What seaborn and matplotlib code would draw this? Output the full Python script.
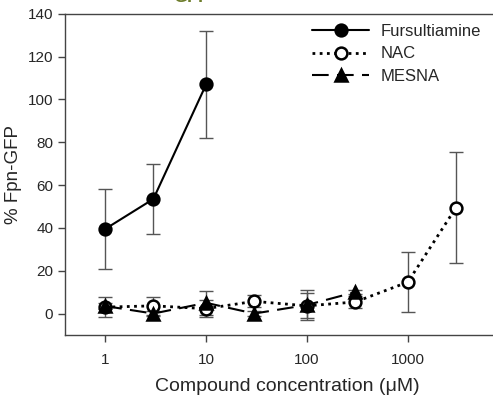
import numpy  as np
import pandas as pd
import seaborn as sns; sns.set_theme(style="ticks")

from matplotlib import pyplot as plt

plt.rcParams['font.family'] = ['Liberation Sans', 'DejaVu Sans']

# values (concentration in uM, % Fpn-GFP, SD)
furs_conc = [1, 3, 10]
furs_mean = [39.5, 53.5, 107.0]
furs_err  = [18.5, 16.5, 25.0]

nac_conc  = [1, 3, 10, 30, 100, 300, 1000, 3000]
nac_mean  = [3.0, 3.6, 2.3, 5.7, 3.6, 5.4, 14.7, 49.5]
nac_err   = [4.7, 4.2, 4.0, 2.8, 5.8, 2.8, 14.0, 26.0]

mesna_conc = [1, 3, 10, 30, 100, 300]
mesna_mean = [3.5, 0.0, 5.0, 0.0, 4.0, 10.0]
mesna_err  = [1.5, 1.0, 5.5, 1.0, 7.0, 1.0]

xticks = [1, 10, 100, 1000]
yticks = [0, 20, 40, 60, 80, 100, 120, 140]

data = pd.concat([
    pd.DataFrame({'conc': furs_conc,  'val': furs_mean,  'err': furs_err,  'cmpd': 'Fursultiamine'}),
    pd.DataFrame({'conc': nac_conc,   'val': nac_mean,   'err': nac_err,   'cmpd': 'NAC'}),
    pd.DataFrame({'conc': mesna_conc, 'val': mesna_mean, 'err': mesna_err, 'cmpd': 'MESNA'}),
], ignore_index=True)

style = {'Fursultiamine': dict(ls='-',        marker='o', mfc='black'),
         'NAC'          : dict(ls=(0, (1, 1.6)), marker='o', mfc='white'),
         'MESNA'        : dict(ls=(0, (8, 4)),   marker='^', mfc='black')}

fig = plt.figure(figsize=(4.93, 3.95), dpi=100)
ax  = fig.add_axes([0.132, 0.152, 0.900, 0.813])

for name in ['MESNA', 'NAC', 'Fursultiamine']:
    d = data[data.cmpd == name]
    ax.errorbar(d.conc, d.val, yerr=d.err, fmt='none', ecolor='#555555',
                elinewidth=1.0, capsize=5, capthick=1.0, zorder=2)

for name in ['Fursultiamine', 'NAC', 'MESNA']:
    d  = data[data.cmpd == name]
    st = style[name]
    sns.lineplot(x=d.conc.values, y=d.val.values, ax=ax, color='black',
                 linestyle=st['ls'], linewidth=2.0 if name == 'NAC' else 1.5,
                 marker=st['marker'], markersize=8.5, markerfacecolor=st['mfc'],
                 markeredgecolor='black', markeredgewidth=1.8, label=name, zorder=3)

ax.set_xscale('log')
ax.set_xlim(0.4, 10000)
ax.set_ylim(-10, 140)
ax.set_xticks(xticks)
ax.set_xticklabels([str(t) for t in xticks])
ax.xaxis.set_minor_locator(plt.NullLocator())
ax.set_yticks(yticks)
ax.tick_params(axis='both', labelsize=11, length=5, width=1.0, color='#444444', direction='out')
ax.tick_params(axis='x', pad=8)
for sp in ax.spines.values():
    sp.set_color('#444444')
    sp.set_linewidth(1.0)

ax.set_xlabel('Compound concentration (\u03bcM)', fontsize=14, labelpad=8)
ax.set_ylabel('% Fpn-GFP', fontsize=13.5, labelpad=4)

leg = ax.legend(loc='upper left', bbox_to_anchor=(0.531, 1.005), frameon=False,
                fontsize=12, handlelength=3.4, handletextpad=0.7,
                labelspacing=0.45, borderaxespad=0.3)

fig.text(0.39, 0.995, 'GFP', color='#6e7d2c', fontsize=13, fontweight='bold',
         ha='center', va='baseline')

fig.savefig('out.png', dpi=100)
